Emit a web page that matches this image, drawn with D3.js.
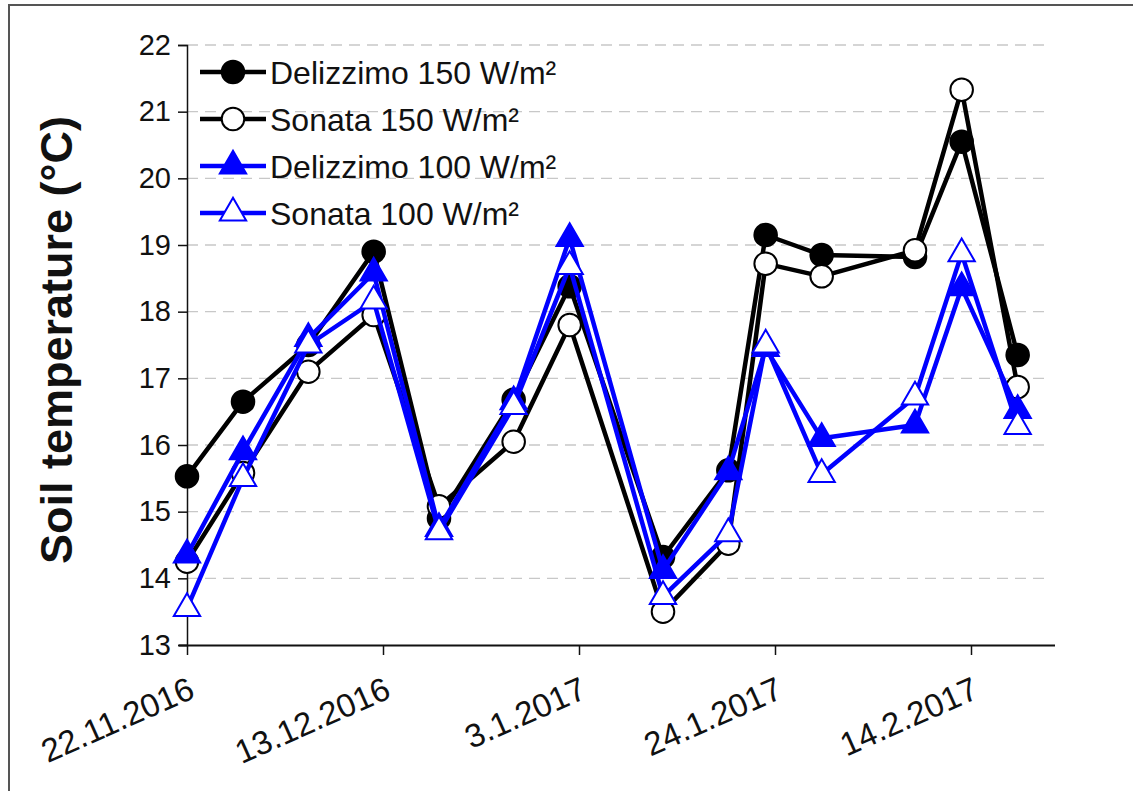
<!DOCTYPE html>
<html>
<head>
<meta charset="utf-8">
<script src="https://cdn.jsdelivr.net/npm/d3@7"></script>
<style>
  html, body { margin: 0; padding: 0; background: #fff; }
  svg { display: block; }
  text { font-family: Arial, "Liberation Sans", sans-serif; fill: #111; }
</style>
</head>
<body>
<svg id="chart" width="1133" height="791"></svg>
<script>
// Measurement dates (dd.mm.yyyy)
const dates = ["22.11.2016", "28.11.2016", "5.12.2016", "12.12.2016", "19.12.2016",
  "27.12.2016", "2.1.2017", "12.1.2017", "19.1.2017", "23.1.2017",
  "29.1.2017", "8.2.2017", "13.2.2017", "19.2.2017"];

// Soil temperature (°C) per treatment
const delizzimo150 = [15.53, 16.65, 17.5, 18.9, 14.9, 16.68, 18.38, 14.32, 15.62, 19.15, 18.85, 18.82, 20.55, 17.35];
const sonata150    = [14.25, 15.58, 17.1, 17.95, 15.08, 16.05, 17.8, 13.5, 14.52, 18.72, 18.53, 18.92, 21.33, 16.87];
const delizzimo100 = [14.35, 15.9, 17.6, 18.58, 14.75, 16.65, 19.1, 14.12, 15.6, 17.45, 16.1, 16.3, 18.36, 16.52];
const sonata100    = [13.55, 15.5, 17.5, 18.16, 14.7, 16.58, 18.68, 13.73, 14.67, 17.5, 15.56, 16.72, 18.87, 16.28];

const seriesNames = ["Delizzimo 150 W/m²", "Sonata 150 W/m²", "Delizzimo 100 W/m²", "Sonata 100 W/m²"];
const xTickLabels = ["22.11.2016", "13.12.2016", "3.1.2017", "24.1.2017", "14.2.2017"];
const yTicks = [13, 14, 15, 16, 17, 18, 19, 20, 21, 22];
const axisStart = "22.11.2016";
const axisEnd = "23.2.2017";

const parse = d3.timeParse("%d.%m.%Y");
const svg = d3.select("#chart");

// Outer frame of the chart
svg.append("path")
  .attr("d", "M9,791 V5 H1133")
  .attr("fill", "none").attr("stroke", "#555").attr("stroke-width", 2);

const plotLeft = 187, plotRight = 1055, plotTop = 45, plotBottom = 645;

const x = d3.scaleTime().domain([parse(axisStart), parse(axisEnd)]).range([plotLeft, plotRight]);
const y = d3.scaleLinear().domain([13, 22]).range([plotBottom, plotTop]);

// Dashed horizontal gridlines
svg.append("g").selectAll("line")
  .data(yTicks.filter(v => v > 13))
  .join("line")
  .attr("x1", plotLeft).attr("x2", 1048)
  .attr("y1", d => y(d)).attr("y2", d => y(d))
  .attr("stroke", "#c8c8c8").attr("stroke-width", 1.3)
  .attr("stroke-dasharray", "11,7");

// Y axis
const yAxis = svg.append("g")
  .attr("transform", `translate(${plotLeft},0)`)
  .call(d3.axisLeft(y).tickValues(yTicks).tickSize(9).tickPadding(7).tickFormat(d3.format("d")));
yAxis.select(".domain").attr("stroke", "#111").attr("stroke-width", 1.5);
yAxis.selectAll(".tick line").attr("stroke", "#111").attr("stroke-width", 1.5);
yAxis.selectAll(".tick text")
  .attr("font-size", 29).attr("fill", "#222")
  .style("font-family", "Arial, 'Liberation Sans', sans-serif");

// X axis
const xAxis = svg.append("g")
  .attr("transform", `translate(0,${plotBottom})`)
  .call(d3.axisBottom(x).tickValues(xTickLabels.map(parse)).tickSize(10).tickSizeOuter(0)
    .tickFormat(d3.timeFormat("%-d.%-m.%Y")));
xAxis.select(".domain").attr("stroke", "#111").attr("stroke-width", 1.8)
  .attr("d", `M${plotLeft - 8},0.5H${plotRight}`);
xAxis.selectAll(".tick line").attr("stroke", "#111").attr("stroke-width", 1.5);
xAxis.selectAll(".tick text")
  .attr("font-size", 33).attr("fill", "#222")
  .style("font-family", "Arial, 'Liberation Sans', sans-serif")
  .attr("text-anchor", "end")
  .attr("dy", null)
  .attr("transform", "translate(9,52) rotate(-24)")
  .attr("y", 0).attr("x", 0);

// Axis title
svg.append("text")
  .attr("transform", "translate(72,340) rotate(-90)")
  .attr("text-anchor", "middle")
  .attr("font-size", 45).attr("font-weight", "bold")
  .text("Soil temperature (°C)");

// Series definitions
const series = [
  { name: seriesNames[0], values: delizzimo150, line: "#000", shape: "circle", fill: "#000", stroke: "#000" },
  { name: seriesNames[1], values: sonata150, line: "#000", shape: "circle", fill: "#fff", stroke: "#000" },
  { name: seriesNames[2], values: delizzimo100, line: "#0000ff", shape: "triangle", fill: "#0000ff", stroke: "#0000ff" },
  { name: seriesNames[3], values: sonata100, line: "#0000ff", shape: "triangle", fill: "#fff", stroke: "#0000ff" }
];

const line = d3.line().x(d => x(d.date)).y(d => y(d.value));
const symCircle = d3.symbol().type(d3.symbolCircle).size(400);
const symTri = d3.symbol().type(d3.symbolTriangle).size(300);

function drawMarker(g, s) {
  return g.append("path")
    .attr("d", s.shape === "circle" ? symCircle() : symTri())
    .attr("fill", s.fill).attr("stroke", s.stroke).attr("stroke-width", 2);
}

series.forEach(s => {
  const pts = dates.map((d, i) => ({ date: parse(d), value: s.values[i] }));
  const g = svg.append("g");
  g.append("path").datum(pts)
    .attr("d", line)
    .attr("fill", "none").attr("stroke", s.line).attr("stroke-width", 4.5)
    .attr("stroke-linejoin", "round");
  pts.forEach(p => {
    drawMarker(g, s).attr("transform", `translate(${x(p.date)},${y(p.value)})`);
  });
});

// Legend
const legend = svg.append("g");
series.forEach((s, i) => {
  const yy = 72 + i * 47;
  legend.append("line")
    .attr("x1", 200).attr("x2", 266).attr("y1", yy).attr("y2", yy)
    .attr("stroke", s.line).attr("stroke-width", 4.5);
  drawMarker(legend, s).attr("transform", `translate(233,${yy})`);
  legend.append("text")
    .attr("x", 270).attr("y", yy).attr("dy", "0.36em")
    .attr("font-size", 32).attr("fill", "#222")
    .text(s.name);
});
</script>
</body>
</html>
